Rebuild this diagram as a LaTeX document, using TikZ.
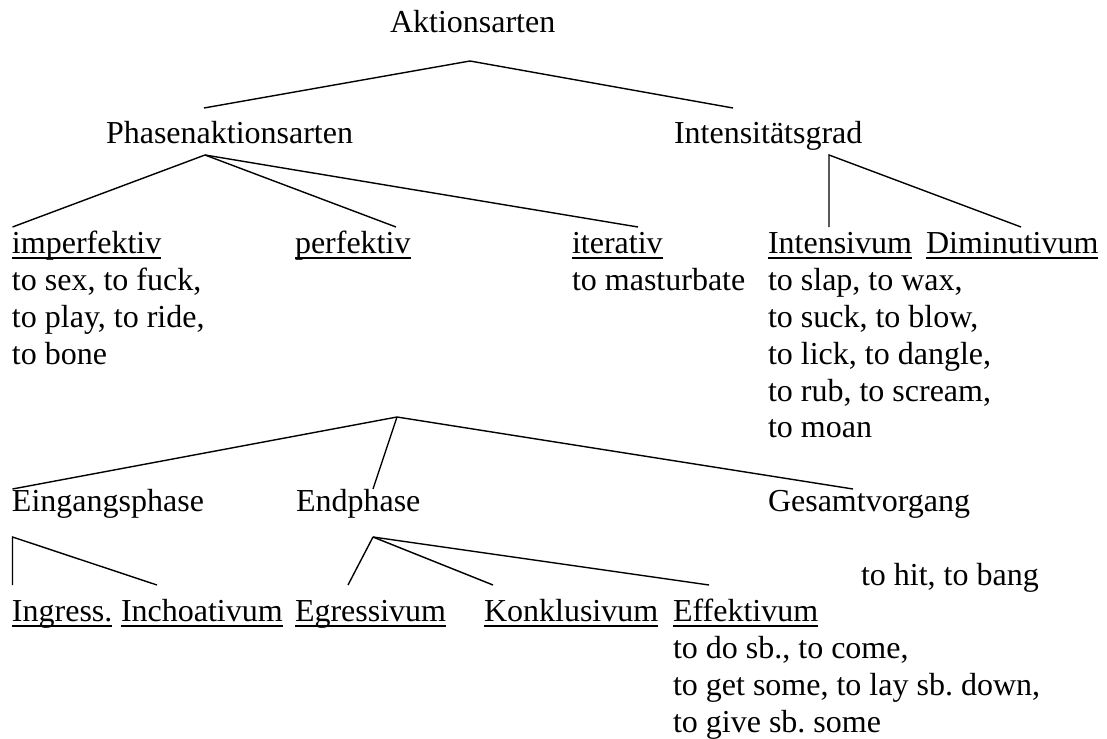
\documentclass[tikz,border=0pt]{standalone}
\usepackage{fontspec}
\setmainfont{Liberation Serif}
\frenchspacing
\begin{document}
\begin{tikzpicture}[x=1pt,y=-1pt,
  lbl/.style={anchor=base west, inner sep=0pt, outer sep=0pt,
              font=\fontsize{32}{36.8}\selectfont},
  lst/.style={anchor=north west, inner sep=0pt, outer sep=0pt, align=left,
              font=\fontsize{32}{36.8}\selectfont},
  branch/.style={line width=1.4pt},
  uline/.style={line width=2pt}]
\useasboundingbox (0,0) rectangle (1107,738);

% --- labels (baselines on a 36.8pt line grid) ---
\node[lbl] (root)   at (390,33)    {Aktionsarten};
\node[lbl] (phase)  at (106,143.4) {Phasenaktionsarten};
\node[lbl] (grad)   at (674,143.4) {Intensitätsgrad};

\node[lbl] (imp)    at (12,253.8)  {imperfektiv};
\node[lbl] (perf)   at (295,253.8) {perfektiv};
\node[lbl] (iter)   at (572,253.8) {iterativ};
\node[lbl] (intens) at (768,253.8) {Intensivum};
\node[lbl] (dimin)  at (926,253.8) {Diminutivum};

% example lists (top of the strut = first baseline - 25.76)
\node[lst] (impx)    at (12,264.84)  {\strut to sex, to fuck,\\to play, to ride,\\to bone};
\node[lbl] (iterx)   at (572,290.6)  {to masturbate};
\node[lst] (intensx) at (768,264.84) {\strut to slap, to wax,\\to suck, to blow,\\to lick, to dangle,\\to rub, to scream,\\to moan};

\node[lbl] (ein)  at (12,511.4)  {Eingangsphase};
\node[lbl] (endp) at (296,511.4) {Endphase};
\node[lbl] (ges)  at (768,511.4) {Gesamtvorgang};
\node[lbl] (gesx) at (861,585)   {to hit, to bang};

\node[lbl] (ingr) at (12,621.8)  {Ingress.};
\node[lbl] (inch) at (121,621.8) {Inchoativum};
\node[lbl] (egr)  at (295,621.8) {Egressivum};
\node[lbl] (konk) at (484,621.8) {Konklusivum};
\node[lbl] (eff)  at (673,621.8) {Effektivum};
\node[lst] (effx) at (673,632.84) {\strut to do sb., to come,\\to get some, to lay sb. down,\\to give sb. some};

% --- underlined category names ---
\foreach \n in {imp,perf,iter,intens,dimin,ingr,inch,egr,konk,eff}
  \draw[uline] ([yshift=-4.5pt]\n.base west) -- ([yshift=-4.5pt]\n.base east);

% --- branch points and branch ends ---
\coordinate (rootFork)  at (470,61);
\coordinate (toPhase)   at (204,108);
\coordinate (toGrad)    at (733,108);

\coordinate (phaseFork) at (205,155);
\coordinate (toImp)     at (12.5,227);
\coordinate (toPerf)    at (396,227);
\coordinate (toIter)    at (638,227);

\coordinate (gradFork)  at (829,155);
\coordinate (toIntens)  at (829,227);
\coordinate (toDimin)   at (1021,227);

\coordinate (perfFork)  at (397,417);
\coordinate (toEin)     at (12.5,489);
\coordinate (toEnd)     at (373,489);
\coordinate (toGes)     at (853,489);

\coordinate (einFork)   at (12.5,537);
\coordinate (toIngr)    at (12.5,585);
\coordinate (toInch)    at (157,585);

\coordinate (endFork)   at (373,537);
\coordinate (toEgr)     at (348,585);
\coordinate (toKonk)    at (493,585);
\coordinate (toEff)     at (709,585);

% --- branches ---
\draw[branch] (toPhase) -- (rootFork) -- (toGrad);
\draw[branch] (phaseFork) -- (toImp);
\draw[branch] (phaseFork) -- (toPerf);
\draw[branch] (phaseFork) -- (toIter);
\draw[branch] (toIntens) -- (gradFork) -- (toDimin);
\draw[branch] (perfFork) -- (toEin);
\draw[branch] (perfFork) -- (toEnd);
\draw[branch] (perfFork) -- (toGes);
\draw[branch] (toIngr) -- (einFork) -- (toInch);
\draw[branch] (endFork) -- (toEgr);
\draw[branch] (endFork) -- (toKonk);
\draw[branch] (endFork) -- (toEff);
\end{tikzpicture}
\end{document}
